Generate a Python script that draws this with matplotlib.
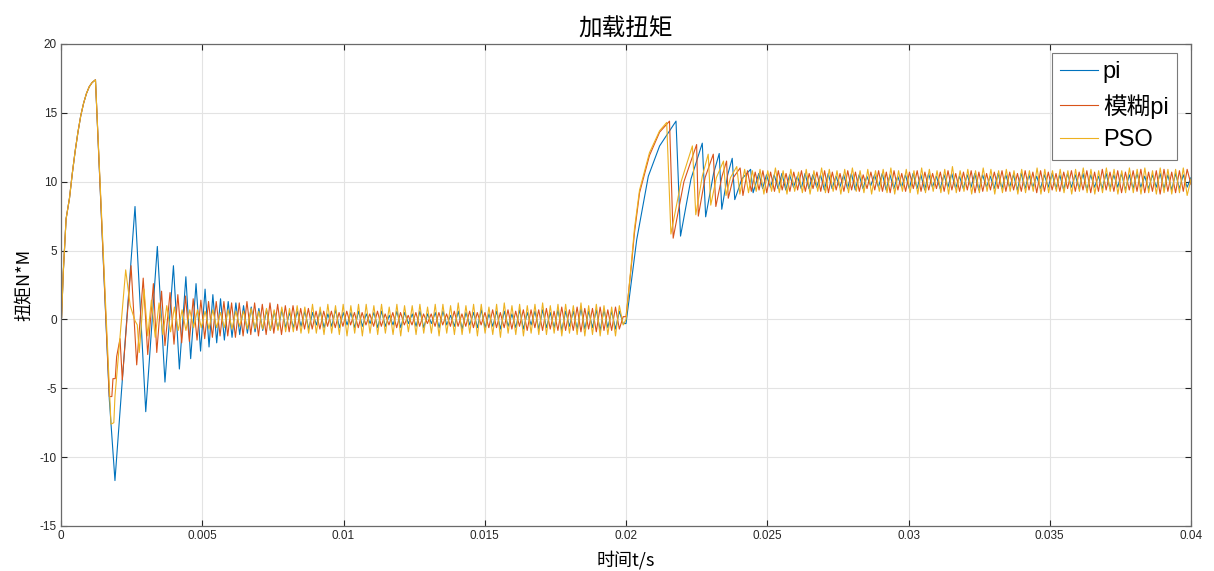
import numpy as np
import matplotlib
matplotlib.use("Agg")
import matplotlib.pyplot as plt

plt.rcParams['font.family'] = ['Liberation Sans', 'Noto Sans CJK SC', 'DejaVu Sans']
plt.rcParams['axes.unicode_minus'] = False

# start-up transient, same for all three controllers
rise_t = [0, 0.00002, 0.00008, 0.00018, 0.0003, 0.0004, 0.0005, 0.0006, 0.0007,
          0.0008, 0.0009, 0.001, 0.0011, 0.00122]
rise_y = [0, 0.1, 3.4, 7.3, 8.8, 10.6, 12.2, 13.6, 14.8, 15.7, 16.4, 16.9, 17.2, 17.4]

# pi
pi_t1 = [0.00171, 0.00191, 0.00262, 0.0030, 0.00341, 0.00368, 0.00398, 0.00419,
         0.00442, 0.00459, 0.00478, 0.00494, 0.0051]
pi_y1 = [-5.8, -11.7, 8.2, -6.7, 5.3, -4.55, 3.9, -3.6, 3.1, -2.85, 2.6, -2.3, 2.2]
pi_ripple_a = [
    -2.0, 1.8, -1.7, 1.5, -1.5, 1.3, -1.3, 1.2, -1.1, 1.0, -1.0, 0.9,
    -0.9, 0.8, -0.8, 0.7, -0.8, 0.6, -0.7, 0.7, -0.6, 0.5, -0.6, 0.6,
    -0.5, 0.6, -0.7, 0.5, -0.4, 0.6, -0.6, 0.4, -0.5, 0.7, -0.6, 0.5,
    -0.4, 0.5, -0.6, 0.6, -0.5, 0.4, -0.3, 0.5, -0.6, 0.6, -0.5, 0.3,
    -0.4, 0.6, -0.6, 0.5, -0.3, 0.4, -0.5, 0.6, -0.6, 0.4, -0.3, 0.5,
    -0.6, 0.6, -0.4, 0.3, -0.5, 0.6, -0.7, 0.5, -0.4, 0.5, -0.6, 0.7,
    -0.6, 0.4, -0.5, 0.6, -0.7, 0.6, -0.5, 0.4, -0.6, 0.7, -0.7, 0.5,
    -0.4, 0.6, -0.7, 0.7, -0.6, 0.5, -0.6, 0.7, -0.8, 0.6, -0.5, 0.6,
    -0.7, 0.8, -0.7, 0.6, -0.6, 0.7, -0.8, 0.7, -0.6, 0.6, -0.7, 0.6, -0.3]
pi_t2 = [0.02, 0.02038, 0.02079, 0.02119, 0.02177, 0.02193, 0.0223, 0.0227,
         0.02282, 0.0231, 0.0233, 0.02339, 0.0236, 0.02376, 0.02385, 0.0241,
         0.02441, 0.0245]
pi_y2 = [-0.3, 5.8, 10.4, 12.6, 14.4, 6.05, 10.2, 12.8, 7.45, 10.6, 12.05, 8.0,
         10.5, 11.7, 8.7, 10.2, 10.9, 9.2]
pi_ripple_b = [
    10.6, 9.5, 10.5, 9.6, 10.5, 9.5, 10.6, 9.4, 10.5, 9.6, 10.4, 9.5,
    10.6, 9.5, 10.5, 9.6, 10.5, 9.4, 10.6, 9.5, 10.4, 9.6, 10.5, 9.5,
    10.6, 9.4, 10.5, 9.5, 10.4, 9.7, 10.5, 9.6, 10.6, 9.4, 10.5, 9.5,
    10.4, 9.6, 10.5, 9.5, 10.6, 9.5, 10.5, 9.4, 10.6, 9.6, 10.4, 9.5,
    10.5, 9.6, 10.6, 9.5, 10.4, 9.5, 10.5, 9.6, 10.6, 9.4, 10.5, 9.6,
    10.4, 9.5, 10.6, 9.5, 10.5, 9.6, 10.5, 9.4, 10.6, 9.5, 10.5, 9.6,
    10.4, 9.5, 10.5, 9.6, 10.6, 9.5, 10.5, 9.4, 10.6, 9.6, 10.5, 9.5,
    10.6, 9.4, 10.5, 9.6, 10.4, 9.5, 10.6, 9.5, 10.5, 9.6, 10.6, 9.4,
    10.5, 9.5, 10.6, 9.6, 10.4, 9.5, 10.5, 9.6, 10.6, 9.5, 10.5, 9.4,
    10.6, 9.5, 10.5, 9.6, 10.3]

# fuzzy pi
fz_t1 = [0.00171, 0.00180, 0.00184, 0.00192, 0.00197, 0.00209, 0.00217, 0.00248,
         0.00268, 0.00291, 0.00307, 0.00327, 0.00339, 0.00356, 0.00368, 0.00386]
fz_y1 = [-5.6, -5.6, -4.3, -4.3, -2.7, -1.4, -4.4, 3.9, -3.3, 3.0, -2.55, 2.6,
         -2.4, 2.05, -1.9, 1.95]
fz_ripple_a = [
    -1.8, 1.8, -1.7, 1.7, -1.6, 1.5, -1.5, 1.4, -1.4, 1.3, -1.3, 1.3,
    -1.2, 1.3, -1.2, 1.2, -1.3, 1.2, -1.2, 1.3, -1.1, 1.2, -1.2, 1.1,
    -1.1, 1.2, -1.0, 1.1, -1.1, 1.0, -0.9, 1.0, -0.8, 0.8, -0.7, 0.8,
    -0.7, 0.6, -0.7, 0.6, -0.5, 0.6, -0.6, 0.5, -0.5, 0.6, -0.4, 0.5,
    -0.6, 0.5, -0.4, 0.4, -0.5, 0.6, -0.5, 0.4, -0.4, 0.5, -0.6, 0.5,
    -0.4, 0.3, -0.4, 0.5, -0.5, 0.4, -0.3, 0.4, -0.5, 0.5, -0.4, 0.4,
    -0.5, 0.6, -0.5, 0.4, -0.5, 0.6, -0.6, 0.5, -0.4, 0.5, -0.6, 0.7,
    -0.6, 0.5, -0.6, 0.7, -0.7, 0.6, -0.5, 0.7, -0.8, 0.7, -0.6, 0.7,
    -0.8, 0.8, -0.7, 0.6, -0.8, 0.9, -0.8, 0.7, -0.8, 0.9, -0.9, 0.8,
    -0.7, 0.8, -0.9, 0.9, -0.8, 0.7, -0.8, 0.9, -0.7, 0.2]
fz_t2 = [0.02, 0.02019, 0.0203, 0.02048, 0.02083, 0.02119, 0.02154, 0.02167,
         0.02205, 0.0225, 0.02256, 0.0228, 0.02309, 0.02318, 0.0234, 0.02356,
         0.02362, 0.0238, 0.02404, 0.02414]
fz_y2 = [0.2, 3.9, 6.3, 9.2, 11.9, 13.6, 14.4, 5.9, 10.0, 12.7, 7.5, 10.3, 12.0,
         8.2, 10.4, 11.5, 8.8, 10.3, 11.0, 9.0]
fz_ripple_b = [
    10.8, 9.3, 10.7, 9.4, 10.8, 9.2, 10.7, 9.3, 10.8, 9.4, 10.6, 9.3,
    10.7, 9.4, 10.8, 9.3, 10.6, 9.5, 10.7, 9.3, 10.8, 9.2, 10.7, 9.4,
    10.6, 9.3, 10.8, 9.4, 10.7, 9.3, 10.5, 9.5, 10.7, 9.4, 10.8, 9.3,
    10.7, 9.2, 10.8, 9.4, 10.6, 9.3, 10.7, 9.5, 10.8, 9.3, 10.7, 9.4,
    10.6, 9.5, 10.7, 9.3, 10.8, 9.4, 10.6, 9.3, 10.7, 9.4, 10.8, 9.2,
    10.7, 9.3, 10.6, 9.4, 10.7, 9.5, 10.8, 9.3, 10.7, 9.4, 10.6, 9.3,
    10.8, 9.4, 10.7, 9.2, 10.8, 9.3, 10.7, 9.4, 10.6, 9.3, 10.7, 9.5,
    10.8, 9.3, 10.7, 9.4, 10.8, 9.2, 10.7, 9.3, 10.9, 9.4, 10.7, 9.3,
    10.8, 9.2, 10.7, 9.4, 10.8, 9.3, 10.9, 9.2, 10.7, 9.3, 10.8, 9.1,
    10.9, 9.3, 10.7, 9.2, 10.8, 9.3, 10.9, 9.8]

# PSO
pso_t1 = [0.00177, 0.00187, 0.00191, 0.00229, 0.00245, 0.00262, 0.0027, 0.00277,
          0.00294, 0.00307]
pso_y1 = [-7.6, -7.5, -5.6, 3.6, 1.0, -0.1, -0.4, -2.4, 2.2, -1.2]
pso_ripple_a = [
    1.4, -1.3, 1.2, -1.1, 1.0, -0.9, 0.9, -0.8, 0.7, -0.8, 0.7, -0.6,
    0.7, -0.6, 0.6, -0.7, 0.7, -0.6, 0.5, -0.6, 0.7, -0.7, 0.6, -0.5,
    0.6, -0.7, 0.8, -0.7, 0.6, -0.7, 0.8, -0.8, 0.7, -0.8, 0.9, -0.9,
    0.8, -0.9, 1.0, -1.0, 0.9, -1.0, 1.1, -1.0, 0.9, -1.1, 1.1, -1.0,
    1.0, -1.1, 1.1, -1.2, 1.0, -1.0, 1.1, -1.2, 1.1, -1.0, 1.0, -1.1,
    1.1, -1.0, 0.9, -1.1, 1.1, -1.2, 1.0, -0.9, 1.0, -1.1, 1.1, -1.0,
    0.9, -1.0, 1.1, -1.2, 1.1, -1.0, 1.0, -1.1, 1.2, -1.1, 1.0, -1.0,
    1.1, -1.2, 1.1, -1.0, 0.9, -1.1, 1.1, -1.3, 1.2, -1.0, 1.0, -1.1,
    1.1, -1.2, 1.0, -1.0, 1.1, -1.1, 1.2, -1.1, 1.0, -1.0, 1.1, -1.2,
    1.1, -1.0, 1.0, -1.1, 1.2, -1.2, 1.0, -1.1, 1.1, -1.2, 1.0, -1.1,
    0.9, -1.2, 1.0, -0.4]
pso_t2 = [0.02, 0.02019, 0.0203, 0.02048, 0.02083, 0.02119, 0.02144, 0.02159,
          0.02195, 0.02235, 0.02247, 0.0227, 0.02291, 0.023, 0.0232, 0.02345,
          0.02354, 0.0237, 0.02392, 0.02403]
pso_y2 = [0.0, 4.1, 6.6, 9.4, 12.1, 13.7, 14.3, 6.2, 10.0, 12.6, 7.6, 10.4, 12.0,
          8.3, 10.3, 11.5, 9.0, 10.3, 11.1, 9.1]
pso_ripple_b = [
    10.9, 9.2, 10.8, 9.3, 10.9, 9.1, 10.8, 9.3, 11.0, 9.2, 10.8, 9.1,
    10.9, 9.3, 10.7, 9.2, 10.9, 9.1, 10.8, 9.3, 11.0, 9.2, 10.9, 9.3,
    10.8, 9.1, 10.9, 9.2, 11.0, 9.3, 10.8, 9.2, 10.9, 9.1, 10.8, 9.3,
    10.9, 9.2, 11.0, 9.1, 10.8, 9.3, 10.9, 9.2, 10.8, 9.1, 11.0, 9.2,
    10.9, 9.3, 10.8, 9.2, 10.9, 9.1, 11.1, 9.2, 10.8, 9.3, 10.9, 9.1,
    10.8, 9.2, 11.0, 9.3, 10.9, 9.1, 10.8, 9.2, 10.9, 9.3, 10.8, 9.1,
    10.9, 9.2, 10.8, 9.3, 11.0, 9.1, 10.9, 9.2, 10.8, 9.3, 10.9, 9.2,
    10.8, 9.1, 10.9, 9.3, 11.0, 9.2, 10.9, 9.1, 10.8, 9.2, 11.0, 9.3,
    10.9, 9.1, 10.8, 9.2, 11.0, 9.2, 10.9, 9.1, 11.0, 9.2, 10.8, 9.1,
    11.0, 9.2, 10.9, 9.1, 10.9, 9.2, 11.0, 9.0, 10.2]

labels = ['pi', '模糊pi', 'PSO']
colors = ['#0072BD', '#D95319', '#EDB120']


def build(t1, y1, ra, a0, t2, y2, rb, b0):
    # ripple extrema sit on an even time grid inside each steady section
    ta = np.linspace(a0, 0.0199, len(ra))
    tb = np.linspace(b0, 0.04, len(rb))
    t = np.concatenate([rise_t, t1, ta, t2, tb])
    y = np.concatenate([rise_y, y1, ra, y2, rb])
    return t, y


series = [
    build(pi_t1, pi_y1, pi_ripple_a, 0.00524, pi_t2, pi_y2, pi_ripple_b, 0.0247),
    build(fz_t1, fz_y1, fz_ripple_a, 0.0040, fz_t2, fz_y2, fz_ripple_b, 0.0243),
    build(pso_t1, pso_y1, pso_ripple_a, 0.0032, pso_t2, pso_y2, pso_ripple_b, 0.0242),
]

fig = plt.figure(figsize=(12.14, 5.71), dpi=100)
ax = fig.add_axes([61 / 1214, 45 / 571, 1130 / 1214, 482 / 571])

for (t, y), lab, c in zip(series, labels, colors):
    ax.plot(t, y, color=c, lw=0.8, label=lab)

ax.set_xlim(0, 0.04)
ax.set_ylim(-15, 20)
ax.set_xticks([0, 0.005, 0.01, 0.015, 0.02, 0.025, 0.03, 0.035, 0.04])
ax.set_xticklabels(['0', '0.005', '0.01', '0.015', '0.02', '0.025', '0.03', '0.035', '0.04'])
ax.set_yticks(range(-15, 21, 5))
ax.grid(True, color='#e3e3e3', lw=0.8)
ax.tick_params(direction='in', length=4, labelsize=8.5, colors='#262626',
               top=True, right=True, pad=3)
for sp in ax.spines.values():
    sp.set_color('#6a6a6a')
    sp.set_linewidth(0.9)

ax.set_title('加载扭矩', fontsize=17, family=['Noto Sans CJK SC'], pad=6)
ax.set_xlabel('时间t/s', fontsize=13, family=['Noto Sans CJK SC'], labelpad=6)
ax.set_ylabel('扭矩N*M', fontsize=13, family=['Noto Sans CJK SC'], labelpad=4)

leg = ax.legend(loc='upper left', bbox_to_anchor=(0.877, 0.981), fontsize=17,
                handlelength=1.6, handletextpad=0.2, borderpad=0.35,
                labelspacing=0.45, fancybox=False, framealpha=1,
                edgecolor='#7a7a7a', borderaxespad=0)
leg.get_frame().set_linewidth(0.8)

fig.savefig('out.png', dpi=100, facecolor='white')
